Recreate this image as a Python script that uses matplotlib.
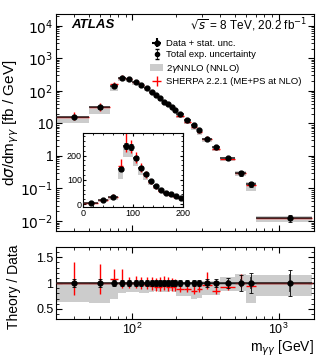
import numpy as np
import matplotlib
matplotlib.use("Agg")
import matplotlib.pyplot as plt
from matplotlib.patches import Patch
from matplotlib.ticker import FixedLocator, FuncFormatter, LogLocator

# bin edges in m_yy [GeV] (first bin 0-30 only visible in the inset)
edges = [0, 30, 50, 70, 80, 90, 100, 110, 120, 130, 140, 150, 160, 170, 180,
         190, 200, 225, 250, 275, 300, 350, 400, 500, 600, 700, 1700]
# measured cross section [fb/GeV]
data = [5, 16, 31, 146, 240, 236, 190, 150, 123, 95, 74, 60, 47, 40, 33, 26.5,
        19.4, 12.7, 8.9, 6.1, 3.4, 1.87, 0.84, 0.29, 0.135, 0.0124]
# relative uncertainties of the data
stat_rel = [0.04, 0.03, 0.03, 0.02, 0.015, 0.015, 0.015, 0.015, 0.015, 0.015, 0.015,
            0.015, 0.015, 0.015, 0.02, 0.02, 0.02, 0.02, 0.02, 0.025, 0.03, 0.04,
            0.05, 0.08, 0.12, 0.18]
tot_rel = [0.09, 0.08, 0.08, 0.06, 0.05, 0.05, 0.05, 0.05, 0.05, 0.05, 0.05, 0.05,
           0.05, 0.05, 0.05, 0.05, 0.05, 0.05, 0.06, 0.06, 0.07, 0.08, 0.1, 0.16,
           0.2, 0.26]
# 2yNNLO / data band (low, high)
nnlo_lo = [0.6, 0.64, 0.61, 0.70, 0.81, 0.82, 0.82, 0.81, 0.80, 0.82, 0.84, 0.83,
           0.82, 0.83, 0.84, 0.82, 0.75, 0.75, 0.69, 0.72, 0.77, 0.77, 0.85, 0.85,
           0.62, 0.75]
nnlo_hi = [0.98, 1.0, 0.98, 0.98, 0.98, 0.98, 0.98, 0.98, 0.98, 0.98, 0.98, 0.98,
           0.98, 0.98, 0.98, 0.98, 0.98, 0.98, 0.97, 0.97, 1.04, 1.04, 1.12, 1.18,
           1.15, 1.15]
# SHERPA / data and its uncertainty
sh_ratio = [1.0, 1.0, 1.0, 1.08, 1.0, 1.0, 1.0, 0.98, 0.97, 0.95, 0.93, 0.93, 0.95,
            0.93, 0.92, 0.93, 0.88, 0.88, 0.85, 0.88, 0.97, 0.85, 0.93, 1.0, 0.95, 1.0]
sh_up = [0.3, 0.4, 0.37, 0.2, 0.27, 0.12, 0.13, 0.14, 0.15, 0.16, 0.17, 0.18, 0.18,
         0.18, 0.17, 0.15, 0.12, 0.12, 0.12, 0.12, 0.25, 0.12, 0.12, 0.18, 0.1, 0.03]
sh_dn = [0.2, 0.23, 0.21, 0.1, 0.1, 0.1, 0.1, 0.1, 0.08, 0.08, 0.08, 0.08, 0.08,
         0.08, 0.08, 0.08, 0.06, 0.06, 0.06, 0.06, 0.08, 0.06, 0.06, 0.08, 0.05, 0.03]

edges = np.array(edges, float)
lo, hi = edges[:-1], edges[1:]
cen = 0.5 * (lo + hi)
data = np.array(data)
stat = data * np.array(stat_rel)
tot = data * np.array(tot_rel)
nlo = data * np.array(nnlo_lo)
nhi = data * np.array(nnlo_hi)
sh = data * np.array(sh_ratio)
sh_e = [data * np.array(sh_dn), data * np.array(sh_up)]
xerr = [cen - lo, hi - cen]

grey = "#cccccc"
plt.rcParams["font.family"] = ["Liberation Sans", "DejaVu Sans"]
plt.rcParams["mathtext.fontset"] = "dejavusans"

fig = plt.figure(figsize=(3.32, 3.59), dpi=100)
ax = fig.add_axes([0.169, 0.357, 0.777, 0.604])
rx = fig.add_axes([0.169, 0.111, 0.777, 0.201])
ins = fig.add_axes([0.251, 0.423, 0.301, 0.206])


def draw(a, sel, log=True):
    s = slice(sel, None)
    a.bar(lo[s], nhi[s] - nlo[s], bottom=nlo[s], width=(hi - lo)[s], align="edge",
          color=grey, lw=0, zorder=1)
    a.errorbar(cen[s], sh[s], xerr=[xerr[0][s], xerr[1][s]],
               yerr=[sh_e[0][s], sh_e[1][s]], fmt="none", ecolor="red",
               elinewidth=1, zorder=2)
    a.errorbar(cen[s], data[s], yerr=tot[s], fmt="none", ecolor="k",
               elinewidth=0.6, capsize=1.2, capthick=0.6, zorder=3)
    a.errorbar(cen[s], data[s], xerr=[xerr[0][s], xerr[1][s]], yerr=stat[s],
               fmt="o", ms=3.5, color="k", ecolor="#222222", elinewidth=1.1, zorder=4)


draw(ax, 1)
ax.set_xscale("log")
ax.set_yscale("log")
ax.set_xlim(30, 1750)
ax.set_ylim(5e-3, 2.3e4)
ax.yaxis.set_major_locator(FixedLocator([1e-2, 1e-1, 1, 10, 1e2, 1e3, 1e4]))
labs = {1e-2: r"$10^{-2}$", 1e-1: r"$10^{-1}$", 1: "1", 10: "10",
        1e2: r"$10^{2}$", 1e3: r"$10^{3}$", 1e4: r"$10^{4}$"}
ax.yaxis.set_major_formatter(FuncFormatter(lambda v, p: labs.get(v, "")))
ax.yaxis.set_minor_locator(LogLocator(base=10, subs=np.arange(2, 10), numticks=20))
ax.set_xticklabels([], minor=True)
ax.set_xticklabels([])
ax.set_ylabel(r"d$\sigma$/dm$_{\gamma\gamma}$ [fb / GeV]", fontsize=11)
ax.yaxis.set_label_coords(-0.135, 0.5)

ax.text(0.06, 0.95, "ATLAS", transform=ax.transAxes, fontsize=9.5,
        fontweight="bold", style="italic", va="center")
ax.text(0.975, 0.95, r"$\sqrt{s}$ = 8 TeV, 20.2 fb$^{-1}$", transform=ax.transAxes,
        fontsize=8.5, ha="right", va="center")

h1 = ax.errorbar([np.nan], [np.nan], xerr=[1], yerr=[1], fmt="o", ms=3.5, color="k")
h2 = ax.errorbar([np.nan], [np.nan], yerr=[1], fmt="o", ms=3, color="k",
                 elinewidth=0.6, capsize=1.5)
h3 = Patch(facecolor=grey, edgecolor="none")
h4 = ax.errorbar([np.nan], [np.nan], xerr=[1], yerr=[1], fmt="none", ecolor="red",
                 elinewidth=1)
ax.legend([h1, h2, h3, h4], ["Data + stat. unc.", "Total exp. uncertainty",
                             r"2$\gamma$NNLO (NNLO)", "SHERPA 2.2.1 (ME+PS at NLO)"],
          loc="upper left", bbox_to_anchor=(0.34, 0.915), frameon=False,
          fontsize=6.8, handlelength=1.3, handletextpad=0.3, labelspacing=0.25,
          borderpad=0.2)

# ratio panel
rx.bar(lo[1:], (np.array(nnlo_hi) - np.array(nnlo_lo))[1:], bottom=np.array(nnlo_lo)[1:],
       width=(hi - lo)[1:], align="edge", color=grey, lw=0, zorder=1)
rx.axhline(1, color="k", lw=1, zorder=2)
rx.errorbar(cen[1:], np.array(sh_ratio)[1:], xerr=[xerr[0][1:], xerr[1][1:]],
            yerr=[np.array(sh_dn)[1:], np.array(sh_up)[1:]], fmt="none",
            ecolor="red", elinewidth=1, zorder=3)
ones = np.ones(len(cen) - 1)
rx.errorbar(cen[1:], ones, yerr=np.array(tot_rel)[1:], fmt="none", ecolor="k",
            elinewidth=0.6, capsize=1.2, capthick=0.6, zorder=4)
rx.errorbar(cen[1:], ones, xerr=[xerr[0][1:], xerr[1][1:]], yerr=np.array(stat_rel)[1:],
            fmt="o", ms=3.5, color="k", ecolor="#222222", elinewidth=1.1, zorder=5)
rx.set_xscale("log")
rx.set_xlim(30, 1750)
rx.set_ylim(0.3, 1.7)
rx.set_yticks([0.5, 1, 1.5])
rx.set_yticklabels(["0.5", "1", "1.5"])
rx.yaxis.set_minor_locator(FixedLocator(np.arange(0.3, 1.71, 0.1)))
rx.set_ylabel("Theory / Data", fontsize=10)
rx.yaxis.set_label_coords(-0.135, 0.45)
rx.set_xlabel(r"m$_{\gamma\gamma}$ [GeV]", fontsize=10, loc="right", labelpad=1)

# inset, linear scale
draw(ins, 0)
ins.set_xlim(0, 200)
ins.set_ylim(-12, 292)
ins.set_xticks([0, 100, 200])
ins.set_yticks([0, 100, 200])
ins.xaxis.set_minor_locator(FixedLocator(np.arange(0, 201, 20)))
ins.yaxis.set_minor_locator(FixedLocator(np.arange(0, 291, 20)))
ins.tick_params(labelsize=6.5, pad=1)

for a in (ax, rx, ins):
    a.tick_params(which="both", direction="in", top=True, right=True)
    a.tick_params(which="major", length=4)
    a.tick_params(which="minor", length=2)
ax.tick_params(labelsize=10, pad=2)
rx.tick_params(labelsize=9, pad=2)
ins.tick_params(which="major", length=2.5)
ins.tick_params(which="minor", length=1.3)

fig.savefig("out.png", dpi=100)
